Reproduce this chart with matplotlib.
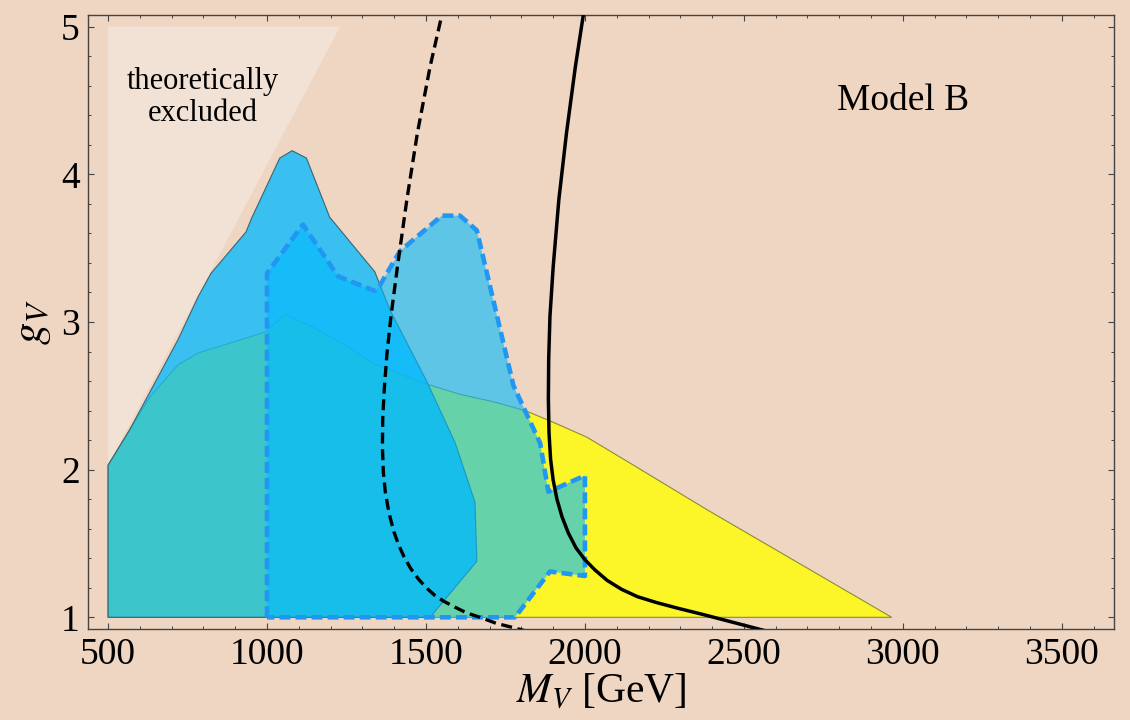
import matplotlib.pyplot as plt
from matplotlib.ticker import MultipleLocator

# Exclusion regions in the (M_V, g_V) plane
excl_m = [500, 1230, 500]
excl_g = [5.0, 5.0, 2.03]

yellow_m = [500, 500, 568, 631, 720, 783, 993, 1056, 1130, 1233, 1335, 1502, 1607,
            1712, 1812, 1901, 2006, 2153, 2383, 2965]
yellow_g = [1.0, 2.03, 2.27, 2.49, 2.71, 2.79, 2.93, 3.05, 2.98, 2.86, 2.72, 2.58, 2.51,
            2.46, 2.40, 2.32, 2.22, 2.03, 1.73, 1.0]

blue_m = [500, 500, 568, 720, 783, 824, 934, 951, 1040, 1079, 1124, 1197, 1339,
          1387, 1502, 1592, 1654, 1660, 1513]
blue_g = [1.0, 2.03, 2.27, 2.88, 3.17, 3.33, 3.61, 3.70, 4.11, 4.16, 4.11, 3.71, 3.34,
          3.08, 2.60, 2.18, 1.78, 1.38, 1.0]

dash_m = [1000, 1000, 1113, 1223, 1339, 1350, 1418, 1550, 1607, 1660, 1775, 1859,
          1885, 2000, 2000, 1890, 1780, 1000]
dash_g = [1.0, 3.33, 3.66, 3.31, 3.21, 3.23, 3.48, 3.72, 3.72, 3.62, 2.57, 2.18,
          1.85, 1.96, 1.28, 1.31, 1.0, 1.0]

# Contour curves
cdash_m = [1560, 1550, 1513, 1473, 1440, 1410, 1390, 1377, 1369, 1364, 1363, 1366,
           1372, 1380, 1388, 1399, 1414, 1431, 1452, 1476, 1501, 1527, 1555, 1590,
           1628, 1670, 1720, 1775, 1810]
cdash_g = [5.15, 5.08, 4.73, 4.28, 3.83, 3.37, 3.04, 2.78, 2.55, 2.35, 2.15, 1.98,
           1.85, 1.75, 1.67, 1.58, 1.49, 1.41, 1.33, 1.26, 1.20, 1.15, 1.11, 1.07,
           1.03, 1.00, 0.96, 0.93, 0.91]

csolid_m = [2003, 1995, 1970, 1942, 1918, 1900, 1890, 1886, 1885, 1887, 1892, 1900,
            1912, 1928, 1948, 1972, 2000, 2032, 2070, 2115, 2165, 2225, 2295, 2370,
            2450, 2530, 2565]
csolid_g = [5.15, 5.08, 4.73, 4.28, 3.83, 3.37, 3.04, 2.75, 2.48, 2.25, 2.07, 1.93,
            1.80, 1.68, 1.57, 1.47, 1.39, 1.32, 1.25, 1.19, 1.14, 1.10, 1.06, 1.02,
            0.975, 0.93, 0.91]

bg = '#EFD6C3'
plt.rcParams.update({'font.family': 'Liberation Serif', 'mathtext.fontset': 'stix'})

fig = plt.figure(figsize=(11.3, 7.2), dpi=100, facecolor=bg)
ax = fig.add_axes([0.0779, 0.1264, 0.9079, 0.8528])
ax.set_facecolor(bg)

ax.fill(excl_m, excl_g, color='#F2E1D5', lw=0, zorder=1)
ax.fill(yellow_m, yellow_g, facecolor='#FCF629', edgecolor='#8C8A3C', lw=0.8, zorder=2)
ax.fill(blue_m, blue_g, facecolor=(0.0, 0.72, 1.0, 0.76), edgecolor='#3E6470', lw=0.8, zorder=3)
ax.fill(dash_m, dash_g, facecolor=(0.0, 0.73, 1.0, 0.6), lw=0, zorder=4)
ax.plot(dash_m, dash_g, color='#2196F3', lw=3.3, dashes=(2.4, 1.1), zorder=5)

ax.plot(cdash_m, cdash_g, color='black', lw=2.4, dashes=(3.3, 1.7), zorder=6)
ax.plot(csolid_m, csolid_g, color='black', lw=2.5, zorder=6)

ax.text(799, 4.52, 'theoretically\nexcluded', ha='center', va='center',
        fontsize=22, linespacing=1.15, zorder=7)
ax.text(3000, 4.50, 'Model B', ha='center', va='center', fontsize=27, zorder=7)

ax.set_xlim(437, 3664)
ax.set_ylim(0.921, 5.079)
ax.xaxis.set_major_locator(MultipleLocator(500))
ax.xaxis.set_minor_locator(MultipleLocator(100))
ax.yaxis.set_major_locator(MultipleLocator(1))
ax.yaxis.set_minor_locator(MultipleLocator(0.2))
ax.tick_params(which='both', direction='in', top=True, right=True, color='#444444',
               labelsize=27)
ax.tick_params(which='major', length=4.5, width=0.8, pad=6)
ax.tick_params(which='minor', length=2.5, width=0.7)
for s in ax.spines.values():
    s.set_color('#444444')
    s.set_linewidth(1.0)

ax.set_xlabel('$M_V$ [GeV]', fontsize=30, labelpad=0)
ax.set_ylabel('$g_V$', fontsize=32, labelpad=6)

fig.savefig('out.png', dpi=100, facecolor=bg)
